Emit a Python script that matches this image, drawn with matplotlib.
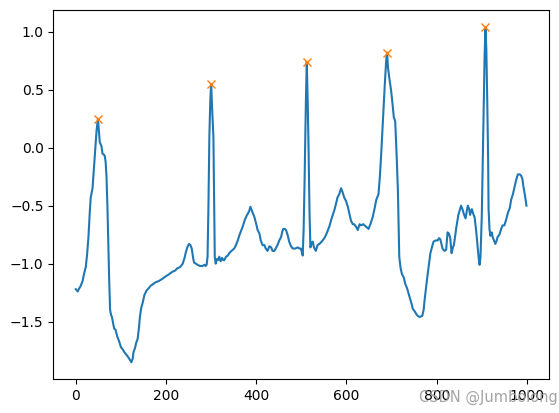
import numpy as np
import matplotlib
matplotlib.use("Agg")
import matplotlib.pyplot as plt

sample_x = [0, 4, 8, 11, 15, 18, 22, 25, 28, 31, 33, 37, 40, 43, 46, 49, 51, 53, 55, 57,
            59, 62, 64, 66, 68, 70, 72, 74, 76, 78, 80, 83, 85, 88, 92, 96, 100, 104, 107, 111,
            115, 120, 123, 126, 128, 131, 134, 137, 140, 142, 145, 148, 152, 157, 162, 166, 170, 177, 184, 192,
            199, 207, 214, 220, 225, 231, 237, 241, 244, 248, 251, 254, 257, 260, 262, 266, 270, 275, 281, 285,
            288, 290, 292, 294, 296, 298, 300, 302, 305, 307, 308, 310, 313, 315, 318, 321, 324, 327, 329, 333,
            337, 340, 345, 351, 355, 359, 363, 366, 370, 374, 377, 381, 384, 387, 390, 393, 396, 400, 403, 407,
            410, 414, 418, 421, 425, 429, 433, 436, 440, 443, 447, 451, 455, 458, 460, 463, 466, 470, 473, 477,
            481, 486, 492, 496, 499, 503, 505, 507, 510, 512, 514, 516, 518, 520, 523, 525, 528, 532, 536, 540,
            545, 551, 556, 562, 567, 573, 577, 580, 584, 588, 591, 595, 599, 603, 606, 610, 614, 617, 621, 625,
            629, 632, 637, 643, 649, 653, 658, 662, 666, 671, 674, 677, 680, 682, 685, 688, 690, 692, 695, 699,
            702, 705, 708, 711, 714, 717, 720, 723, 727, 730, 735, 740, 744, 747, 751, 754, 758, 762, 768, 771,
            773, 776, 779, 783, 786, 790, 793, 797, 802, 805, 808, 811, 813, 817, 821, 824, 827, 830, 833, 836,
            838, 841, 843, 848, 851, 854, 857, 860, 864, 867, 869, 872, 874, 876, 878, 881, 884, 887, 889, 891,
            893, 895, 897, 900, 902, 904, 906, 908, 910, 912, 914, 915, 917, 919, 922, 924, 927, 930, 933, 935,
            939, 943, 946, 950, 954, 958, 962, 965, 969, 972, 976, 980, 984, 987, 990, 992, 996, 999]

ecg_y = [-1.22, -1.24, -1.21, -1.19, -1.15, -1.09, -1.03, -0.92, -0.77, -0.55, -0.43, -0.35, -0.18, -0.02, 0.15, 0.25, 0.15, 0.05, 0.03, 0.01,
         -0.05, -0.06, -0.07, -0.12, -0.25, -0.50, -0.83, -1.15, -1.40, -1.44, -1.46, -1.52, -1.56, -1.57, -1.63, -1.67, -1.72, -1.74, -1.76, -1.78,
         -1.80, -1.83, -1.85, -1.82, -1.76, -1.73, -1.68, -1.65, -1.55, -1.46, -1.38, -1.34, -1.27, -1.23, -1.21, -1.19, -1.18, -1.16, -1.15, -1.13,
         -1.11, -1.09, -1.07, -1.06, -1.04, -1.03, -1.00, -0.95, -0.90, -0.85, -0.83, -0.84, -0.87, -0.95, -0.99, -1.00, -1.01, -1.02, -1.02, -1.01,
         -1.02, -1.01, -0.94, -0.50, 0.09, 0.40, 0.55, 0.35, 0.09, -0.60, -0.94, -1.00, -0.96, -0.97, -0.94, -0.98, -0.95, -0.97, -0.97, -0.94,
         -0.93, -0.91, -0.89, -0.87, -0.84, -0.80, -0.75, -0.72, -0.68, -0.63, -0.60, -0.57, -0.55, -0.51, -0.54, -0.57, -0.60, -0.66, -0.71, -0.74,
         -0.80, -0.84, -0.84, -0.87, -0.89, -0.85, -0.86, -0.89, -0.89, -0.87, -0.84, -0.80, -0.77, -0.72, -0.70, -0.70, -0.71, -0.76, -0.81, -0.85,
         -0.87, -0.87, -0.86, -0.87, -0.87, -0.93, -0.70, -0.31, 0.40, 0.74, 0.40, -0.02, -0.55, -0.86, -0.82, -0.81, -0.86, -0.89, -0.84, -0.83,
         -0.81, -0.78, -0.74, -0.68, -0.61, -0.54, -0.48, -0.43, -0.40, -0.35, -0.38, -0.43, -0.46, -0.51, -0.56, -0.63, -0.66, -0.66, -0.68, -0.71,
         -0.66, -0.67, -0.66, -0.68, -0.70, -0.66, -0.60, -0.53, -0.45, -0.40, -0.25, -0.05, 0.18, 0.35, 0.55, 0.75, 0.82, 0.69, 0.60, 0.49,
         0.38, 0.26, 0.23, -0.05, -0.37, -0.94, -1.04, -1.09, -1.12, -1.17, -1.22, -1.29, -1.34, -1.39, -1.41, -1.43, -1.45, -1.46, -1.45, -1.40,
         -1.32, -1.22, -1.12, -1.00, -0.91, -0.85, -0.81, -0.80, -0.80, -0.78, -0.79, -0.84, -0.87, -0.89, -0.88, -0.73, -0.74, -0.78, -0.91, -0.86,
         -0.84, -0.76, -0.70, -0.58, -0.54, -0.50, -0.53, -0.57, -0.61, -0.54, -0.50, -0.53, -0.58, -0.55, -0.53, -0.57, -0.60, -0.70, -0.78, -0.87,
         -0.95, -1.01, -0.95, -0.58, -0.15, 0.28, 0.75, 1.04, 0.85, 0.42, -0.10, -0.53, -0.70, -0.76, -0.73, -0.77, -0.80, -0.83, -0.80, -0.77,
         -0.75, -0.70, -0.67, -0.67, -0.62, -0.56, -0.52, -0.45, -0.40, -0.35, -0.28, -0.23, -0.23, -0.24, -0.27, -0.33, -0.42, -0.50]

peak_x = [49, 300, 512, 690, 908]
peak_y = [ecg_y[sample_x.index(p)] for p in peak_x]

W, H = 559, 413
fig = plt.figure(figsize=(W / 100, H / 100), dpi=100)
ax = fig.add_axes([53.3 / W, (H - 379) / H, (549 - 53.3) / W, (379 - 10.3) / H])
ax.plot(sample_x, ecg_y)
ax.plot(peak_x, peak_y, "x")

fig.text(558 / W, (H - 397) / H, "CSDN @Jumbolong", ha="right", va="center",
         fontsize=10.5, color="#9a9a9a", alpha=0.9)

fig.savefig("out.png", dpi=100)
